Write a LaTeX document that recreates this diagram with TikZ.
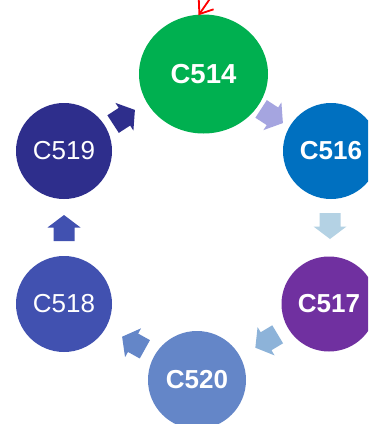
\documentclass[tikz,border=0pt]{standalone}
\usepackage{fontspec}
\setmainfont{Liberation Sans}
\usetikzlibrary{shapes.geometric,arrows.meta}
\definecolor{cGreen}{HTML}{00B050}
\definecolor{cBlue}{HTML}{0070C0}
\definecolor{cPurple}{HTML}{7030A0}
\definecolor{cSteel}{HTML}{6486C8}
\definecolor{cIndigo}{HTML}{4151B0}
\definecolor{cNavy}{HTML}{2E2E8C}
\definecolor{aLav}{HTML}{A5A5E0}
\definecolor{aSky}{HTML}{B4D2E4}
\definecolor{aMid}{HTML}{8DB3D9}
\newcommand{\blkarrow}[4]{%
  \coordinate (#1) at (#2);
  \fill[#4, shift={(#1)}, rotate=#3]
    (-13,-10.5) -- (0.5,-10.5) -- (0.5,-16.5) -- (13,0) -- (0.5,16.5) -- (0.5,10.5) -- (-13,10.5) -- cycle;}
\begin{document}
\begin{tikzpicture}[x=1pt,y=-1pt,
  lbl/.style={text=white, font=\fontsize{26}{26}\selectfont},
  blbl/.style={text=white, font=\fontsize{26}{26}\selectfont\bfseries},
  bub/.style={circle, inner sep=0pt, minimum size=#1}]
\useasboundingbox (0,0) rectangle (368,424);
\clip (0,0) rectangle (368,424);
\fill[white] (0,0) rectangle (368,424);

% circles
\node[ellipse, inner sep=0pt, minimum width=129pt, minimum height=119pt, fill=cGreen, text=white,
  font=\fontsize{27.5}{27.5}\selectfont\bfseries] (c514) at (203.5,74) {C514};
\node[bub=96pt, fill=cBlue, blbl] (c516) at (331,151) {C516};
\node[bub=95pt, fill=cPurple, blbl] (c517) at (329,304) {C517};
\node[bub=98pt, fill=cSteel, blbl] (c520) at (197,380) {C520};
\node[bub=96pt, fill=cIndigo, lbl] (c518) at (64,304) {C518};
\node[bub=96pt, fill=cNavy, lbl] (c519) at (64,151) {C519};

% block arrows
\blkarrow{a1}{124,117}{33}{cNavy}
\blkarrow{a2}{272,116}{-33}{aLav}
\blkarrow{a3}{330,226}{-90}{aSky}
\blkarrow{a4}{266.5,341}{211}{aMid}
\blkarrow{a5}{133.5,343}{151}{cSteel}
\blkarrow{a6}{64,228}{90}{cIndigo}

% red arrow at top
\coordinate (rtip) at (c514.north);
\coordinate (rstart) at (216,-10);
\draw[red, line width=1.8pt, -{Straight Barb[length=12pt,width=18pt]}] (rstart) -- ([xshift=-5pt,yshift=-1pt]rtip);
\end{tikzpicture}
\end{document}
